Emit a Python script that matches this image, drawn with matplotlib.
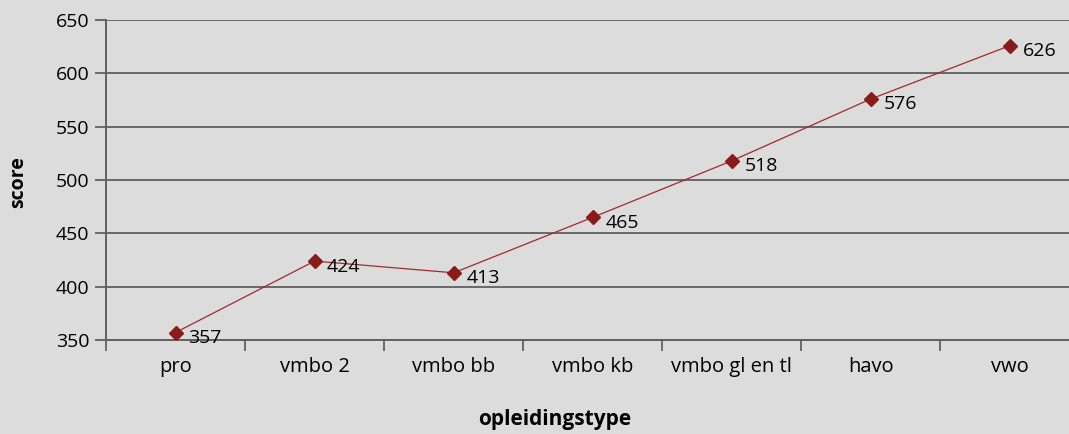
import matplotlib
matplotlib.use("Agg")
import matplotlib.pyplot as plt
from matplotlib.ticker import FixedLocator

categories = ["pro", "vmbo 2", "vmbo bb", "vmbo kb", "vmbo gl en tl", "havo", "vwo"]
scores = [357, 424, 413, 465, 518, 576, 626]
yticks = [350, 400, 450, 500, 550, 600, 650]

plt.rcParams['font.family'] = ['Open Sans', 'DejaVu Sans']

bg = "#dcdcdc"
fig = plt.figure(figsize=(10.69, 4.34), dpi=100, facecolor=bg)
W, H = 1069, 434
left, right, top, bottom = 106, 1079.5, 20, 340
ax = fig.add_axes([left / W, (H - bottom) / H, (right - left) / W, (bottom - top) / H])
ax.set_facecolor(bg)

x = list(range(len(categories)))
ax.plot(x, scores, color="#a32a2a", lw=0.9, marker="D", markersize=7.5,
        markerfacecolor="#8b1a1a", markeredgecolor="#8b1a1a", zorder=3, clip_on=False)
for xi, v in zip(x, scores):
    ax.annotate(str(v), (xi, v), xytext=(9, -4), textcoords="offset points",
                ha="left", va="center", fontsize=14, color="black", zorder=4,
                annotation_clip=False)

ax.set_xlim(-0.5, len(categories) - 0.5)
ax.set_ylim(350, 650)
ax.set_yticks(yticks)
ax.set_yticklabels([str(t) for t in yticks], fontsize=14)
ax.set_xticks(x)
ax.set_xticklabels(categories, fontsize=14.5)
ax.xaxis.set_minor_locator(FixedLocator([i - 0.5 for i in range(len(categories) + 1)]))
ax.tick_params(axis="x", which="major", length=0, pad=12)
ax.tick_params(axis="x", which="minor", length=8, width=1.3, color="#606060")
ax.tick_params(axis="y", length=8, width=1.3, color="#606060", pad=4)

ax.grid(axis="y", color="#686868", lw=1.4)
ax.set_axisbelow(True)
for s in ["top", "right"]:
    ax.spines[s].set_visible(False)
for s in ["left", "bottom"]:
    ax.spines[s].set_color("#606060")
    ax.spines[s].set_linewidth(1.4)

fig.text(18 / W, 1 - 182 / H, "score", rotation=90, ha="center", va="center",
         fontsize=14, fontweight="bold")
fig.text(555 / W, 1 - 420 / H, "opleidingstype", ha="center", va="center",
         fontsize=15, fontweight="bold")

fig.savefig("out.png", dpi=100, facecolor=bg)
